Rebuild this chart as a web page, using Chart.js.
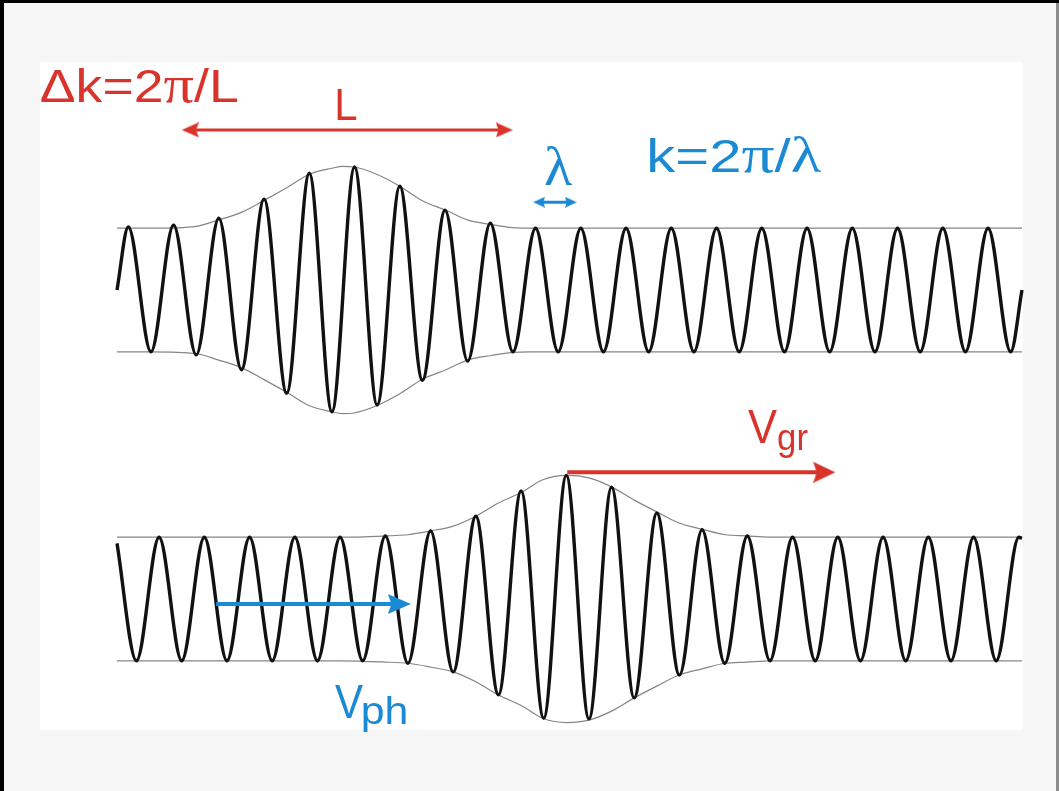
<!DOCTYPE html>
<html>
<head>
<meta charset="utf-8">
<title>Wave packet: phase and group velocity</title>
<script src="https://cdn.jsdelivr.net/npm/chart.js@4.4.1/dist/chart.umd.min.js"></script>
<style>
  html, body { margin: 0; padding: 0; }
  body { width: 1059px; height: 791px; position: relative; overflow: hidden; background: #f6f6f6; }
  .edge-top { position: absolute; left: 0; top: 0; width: 1059px; height: 3px; background: #000; }
  .edge-left { position: absolute; left: 0; top: 0; width: 4px; height: 791px; background: #000; }
  .edge-right { position: absolute; left: 1056px; top: 3px; width: 3px; height: 788px; background: #8c8c8c; }
  .sheet { position: absolute; left: 40px; top: 62px; width: 983px; height: 668px; background: #fff; }
  #waveChart { position: absolute; left: 0; top: 0; }
</style>
</head>
<body>
<div class="edge-top"></div>
<div class="edge-left"></div>
<div class="edge-right"></div>
<div class="sheet"></div>
<canvas id="waveChart" width="1059" height="791"></canvas>
<script>
// --- Data (x in wavelengths, y in units of the flat amplitude) ---

// upper trace: start, every crest / trough, end
const upperWaveX = [0, 0.25, 0.75, 1.25, 1.75, 2.25, 2.75, 3.25, 3.75, 4.25, 4.75,
    5.25, 5.75, 6.25, 6.75, 7.25, 7.75, 8.25, 8.75, 9.25, 9.75,
    10.25, 10.75, 11.25, 11.75, 12.25, 12.75, 13.25, 13.75, 14.25, 14.75,
    15.25, 15.75, 16.25, 16.75, 17.25, 17.75, 18.25, 18.75, 19.25, 19.75, 20];
const upperWaveY = [0, 1.02, -1.0, 1.05, -1.05, 1.16, -1.29, 1.47, -1.67, 1.89, -1.97,
    1.99, -1.86, 1.68, -1.46, 1.29, -1.15, 1.08, -1.0, 1.0, -1.0,
    1.0, -1.0, 1.0, -1.0, 1.0, -1.0, 1.0, -1.0, 1.0, -1.0,
    1.0, -1.0, 1.0, -1.0, 1.0, -1.0, 1.0, -1.0, 1.0, -1.0, 0];

// lower trace (packet moved on)
const lowerWaveX = [0, 0.43, 0.93, 1.43, 1.93, 2.43, 2.93, 3.43, 3.93, 4.43, 4.93,
    5.43, 5.93, 6.43, 6.93, 7.43, 7.93, 8.43, 8.93, 9.43, 9.93,
    10.43, 10.93, 11.43, 11.93, 12.43, 12.93, 13.43, 13.93, 14.43, 14.93,
    15.43, 15.93, 16.43, 16.93, 17.43, 17.93, 18.43, 18.93, 19.43, 19.93, 20];
const lowerWaveY = [0.9, -1.0, 1.0, -1.0, 1.0, -1.0, 1.0, -1.0, 1.0, -1.0, 1.0,
    -1.0, 1.02, -1.04, 1.1, -1.18, 1.34, -1.55, 1.75, -1.93, 2.0,
    -1.94, 1.81, -1.6, 1.39, -1.23, 1.12, -1.04, 1.02, -1.0, 1.0,
    -1.0, 1.0, -1.0, 1.0, -1.0, 1.0, -1.0, 1.0, -1.0, 1.0, 0.98];

// thin envelope lines
const upperEnvX = [0, 0.73, 1.75, 2.23, 2.76, 3.25, 3.76, 4.24, 4.75, 4.99, 5.24,
    5.75, 6.25, 6.76, 7.27, 7.76, 8.27, 8.75, 9.13, 20];
const upperEnvA = [1.0, 1.0, 1.03, 1.13, 1.26, 1.45, 1.66, 1.87, 1.97, 2.0, 1.99,
    1.87, 1.68, 1.44, 1.29, 1.13, 1.06, 1.01, 1.0, 1.0];
const lowerEnvX = [0, 4.93, 5.92, 6.43, 6.92, 7.43, 7.93, 8.42, 8.95, 9.41, 9.94,
    10.43, 10.94, 11.43, 11.93, 12.42, 12.93, 13.44, 13.92, 14.43, 20];
const lowerEnvA = [1.0, 1.0, 1.02, 1.04, 1.1, 1.18, 1.34, 1.55, 1.73, 1.93, 2.0,
    1.96, 1.81, 1.6, 1.41, 1.23, 1.13, 1.04, 1.02, 1.0, 1.0];

// arrows (line ends, same units)
const lArrowX = [1.62, 8.56];       const lArrowY = [5.09, 5.09];
const lambdaArrowX = [9.33, 10.03]; const lambdaArrowY = [3.92, 3.92];
const vgrArrowX = [9.95, 15.63];    const vgrArrowY = [-0.45, -0.45];
const vphArrowX = [2.19, 6.24];     const vphArrowY = [-2.58, -2.58];

const UPPER_CENTER = 2.5;
const LOWER_CENTER = -2.5;

// --- Styles ---
const RED = '#d9342b';
const BLUE = '#1a8ad4';
const INK = '#111111';
const ENV = '#858585';
const SANS = '"Liberation Sans", Arial, sans-serif';
const SERIF = '"Liberation Serif", "Times New Roman", serif';

function pts(xs, ys, offset, sign) {
    return xs.map((x, i) => ({ x: x, y: offset + (sign || 1) * ys[i] }));
}

// arrowhead drawn once, used as the point style of the arrow's end point
// (canvas is centred on the point, so the tip sits len px past the line end)
function makeHead(len, h, color) {
    const c = document.createElement('canvas');
    c.width = len * 2; c.height = h;
    const g = c.getContext('2d');
    g.fillStyle = color;
    g.beginPath();
    g.moveTo(len * 2, h / 2);
    g.lineTo(0, 0);
    g.lineTo(len * 0.3, h / 2);
    g.lineTo(0, h);
    g.closePath();
    g.fill();
    return c;
}

function arrow(xs, ys, color, width, head, twoWay) {
    return {
        data: pts(xs, ys, 0),
        borderColor: color,
        borderWidth: width,
        pointStyle: head,
        pointRadius: twoWay ? [4, 4] : [0, 4],
        pointRotation: [180, 0],
        order: 0
    };
}

function wave(xs, ys, center) {
    return {
        data: pts(xs, ys, center),
        borderColor: INK,
        borderWidth: 3.4,
        cubicInterpolationMode: 'monotone',
        pointRadius: 0,
        order: 1
    };
}

function envelope(xs, amps, center, sign) {
    return {
        data: pts(xs, amps, center, sign),
        borderColor: ENV,
        borderWidth: 1.2,
        cubicInterpolationMode: 'monotone',
        pointRadius: 0,
        order: 2
    };
}

// --- Text labels (pixel anchors: ink left, baseline, ink width) ---
const labelItems = [
    { color: RED, x: 41, y: 102, width: 197, parts: [
        { text: 'Δk=2', font: '46px ' + SANS }, { text: 'π', font: '52px ' + SERIF }, { text: '/L', font: '46px ' + SANS }] },
    { color: RED, x: 337, y: 120, width: 20, parts: [{ text: 'L', font: '44px ' + SANS }] },
    { color: BLUE, x: 545, y: 185, width: 27, parts: [{ text: 'λ', font: '54px ' + SERIF }] },
    { color: BLUE, x: 650, y: 172, width: 171, parts: [
        { text: 'k=2', font: '46px ' + SANS }, { text: 'π', font: '52px ' + SERIF },
        { text: '/', font: '46px ' + SANS }, { text: 'λ', font: '50px ' + SERIF }] },
    { color: RED, x: 748, y: 443, width: 29, parts: [{ text: 'V', font: '48px ' + SANS }] },
    { color: RED, x: 778, y: 450, width: 30, parts: [{ text: 'gr', font: '36px ' + SANS }] },
    { color: BLUE, x: 335, y: 718, width: 28, parts: [{ text: 'V', font: '48px ' + SANS }] },
    { color: BLUE, x: 363, y: 724, width: 43, parts: [{ text: 'ph', font: '38px ' + SANS }] }
];

const labelPlugin = {
    id: 'waveLabels',
    afterDatasetsDraw(chart) {
        const ctx = chart.ctx;
        labelItems.forEach(item => {
            ctx.save();
            ctx.fillStyle = item.color;
            ctx.textBaseline = 'alphabetic';
            let adv = 0, inkL = 0, inkR = 0;
            item.parts.forEach((p, i) => {
                ctx.font = p.font;
                const m = ctx.measureText(p.text);
                if (i === 0) inkL = -m.actualBoundingBoxLeft;
                inkR = adv + m.actualBoundingBoxRight;
                adv += m.width;
            });
            const sx = item.width / (inkR - inkL);
            ctx.translate(item.x, item.y);
            ctx.scale(sx, 1);
            let cx = -inkL;
            item.parts.forEach(p => {
                ctx.font = p.font;
                ctx.fillText(p.text, cx, 0);
                cx += ctx.measureText(p.text).width;
            });
            ctx.restore();
        });
    }
};

document.addEventListener('DOMContentLoaded', () => {
    const canvas = document.getElementById('waveChart');

    const redHead = makeHead(17 / 2, 15, RED);
    const blueSmallHead = makeHead(12 / 2, 11, BLUE);
    const redBigHead = makeHead(22 / 2, 21, RED);
    const blueBigHead = makeHead(23 / 2, 20, BLUE);

    new Chart(canvas.getContext('2d'), {
        type: 'line',
        data: {
            datasets: [
                arrow(lArrowX, lArrowY, RED, 3, redHead, true),
                arrow(lambdaArrowX, lambdaArrowY, BLUE, 3, blueSmallHead, true),
                arrow(vgrArrowX, vgrArrowY, RED, 4, redBigHead, false),
                arrow(vphArrowX, vphArrowY, BLUE, 4, blueBigHead, false),
                wave(upperWaveX, upperWaveY, UPPER_CENTER),
                wave(lowerWaveX, lowerWaveY, LOWER_CENTER),
                envelope(upperEnvX, upperEnvA, UPPER_CENTER, 1),
                envelope(upperEnvX, upperEnvA, UPPER_CENTER, -1),
                envelope(lowerEnvX, lowerEnvA, LOWER_CENTER, 1),
                envelope(lowerEnvX, lowerEnvA, LOWER_CENTER, -1)
            ]
        },
        options: {
            responsive: false,
            animation: false,
            events: [],
            layout: { padding: 0, autoPadding: false },
            scales: {
                x: { type: 'linear', min: -2.5856, max: 20.8177, display: false },
                y: { type: 'linear', min: -5.6068, max: 7.1926, display: false }
            },
            plugins: { legend: { display: false }, tooltip: { enabled: false } }
        },
        plugins: [labelPlugin]
    });
});
</script>
</body>
</html>
